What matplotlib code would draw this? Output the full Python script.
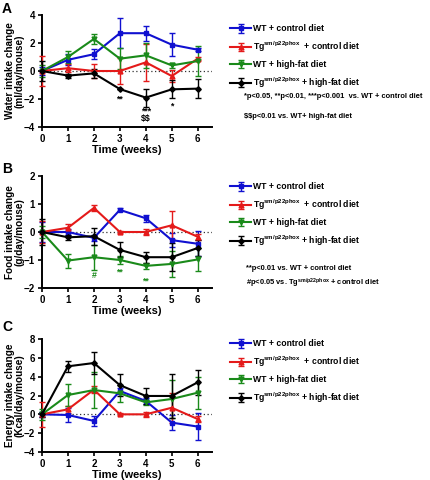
import numpy as np
import matplotlib.pyplot as plt

plt.rcParams['font.family'] = ['Liberation Sans', 'DejaVu Sans']
plt.rcParams['font.weight'] = 'bold'
plt.rcParams['mathtext.fontset'] = 'custom'
plt.rcParams['mathtext.rm'] = 'Liberation Sans'

weeks = [0, 1, 2, 3, 4, 5, 6]

# panel A - water intake change
water_wt_ctrl = [0, 0.8, 1.2, 2.7, 2.7, 1.88, 1.52]
water_wt_ctrl_err = [0.3, 0.4, 0.35, 1.07, 0.55, 0.8, 0.1]
water_tg_ctrl = [0, 0.2, 0.0, 0.0, 0.62, -0.36, 0.88]
water_tg_ctrl_err = [1.1, 0.3, 0.5, 0.9, 1.3, 0.4, 0.1]
water_wt_hfd = [0, 1.0, 2.29, 0.88, 1.12, 0.4, 0.71]
water_wt_hfd_err = [0.4, 0.4, 0.35, 0.75, 0.9, 0.2, 1.1]
water_tg_hfd = [0, -0.33, -0.17, -1.29, -1.9, -1.31, -1.26]
water_tg_hfd_err = [0.7, 0.15, 0.3, 0.0, 0.65, 0.65, 0.7]

# panel B - food intake change
food_wt_ctrl = [0, 0.0, -0.21, 0.79, 0.49, -0.29, -0.42]
food_wt_ctrl_err = [0.35, 0.1, 0.1, 0.05, 0.12, 0.25, 0.45]
food_tg_ctrl = [0, 0.15, 0.86, 0.0, 0.0, 0.24, -0.17]
food_tg_ctrl_err = [0.4, 0.15, 0.1, 0.05, 0.1, 0.5, 0.1]
food_wt_hfd = [0, -1.02, -0.9, -1.0, -1.21, -1.14, -0.98]
food_wt_hfd_err = [0.2, 0.25, 0.45, 0.15, 0.1, 0.45, 0.4]
food_tg_hfd = [0, -0.19, -0.15, -0.64, -0.9, -0.9, -0.57]
food_tg_hfd_err = [0.45, 0.1, 0.3, 0.27, 0.2, 0.5, 0.3]

# panel C - energy intake change
energy_wt_ctrl = [0, -0.07, -0.7, 2.48, 1.42, -0.88, -1.3]
energy_wt_ctrl_err = [0.3, 0.7, 0.5, 0.3, 0.3, 0.8, 1.4]
energy_tg_ctrl = [0, 0.53, 2.62, 0.0, 0.0, 0.7, -0.5]
energy_tg_ctrl_err = [1.3, 0.4, 0.4, 0.1, 0.3, 1.6, 0.3]
energy_wt_hfd = [0, 2.05, 2.58, 2.23, 1.27, 1.63, 2.3]
energy_wt_hfd_err = [0.6, 1.2, 1.9, 0.9, 0.3, 2.0, 1.7]
energy_tg_hfd = [0, 5.1, 5.45, 3.1, 1.95, 1.95, 3.4]
energy_tg_hfd_err = [0.3, 0.6, 1.2, 1.2, 0.8, 2.3, 1.3]

TG = r'Tg$^{\rm sm/p22phox}$'
labels = ['WT + control diet', TG + '  + control diet',
          'WT + high-fat diet', TG + ' + high-fat diet']
colors = ['#1010d0', '#e41a1a', '#1a8a1a', '#000000']
markers = ['s', '^', 'v', 'D']
msizes = [3.5, 3.5, 3.5, 2.8]

W, H = 431, 480
fig = plt.figure(figsize=(W / 100, H / 100), dpi=100)


def px_axes(left, top, right, bottom):
    return fig.add_axes([left / W, 1 - bottom / H, (right - left) / W, (bottom - top) / H])


def draw_panel(ax, series, ylim, yticks, ylabel):
    handles = []
    for (y, e), c, m, ms in zip(series, colors, markers, msizes):
        h = ax.errorbar(weeks, y, yerr=e, color=c, marker=m, markersize=ms,
                        linewidth=1.5, elinewidth=1.0, capsize=2.5, capthick=1.0,
                        clip_on=False, zorder=3)
        handles.append(h)
    ax.axhline(0, color='#333333', linestyle=(0, (1, 2)), linewidth=0.9, zorder=1)
    ax.set_xlim(0, 6.55)
    ax.set_ylim(*ylim)
    ax.set_yticks(yticks)
    ax.set_xticks(weeks)
    for s in ['top', 'right']:
        ax.spines[s].set_visible(False)
    for s in ['left', 'bottom']:
        ax.spines[s].set_linewidth(1.4)
    ax.tick_params(width=1.2, length=3, labelsize=7, pad=2)
    ax.set_xlabel('Time (weeks)', fontsize=8, fontweight='bold', labelpad=1)
    ax.set_ylabel(ylabel, fontsize=7.2, fontweight='bold', linespacing=1.05)
    ax.yaxis.set_label_coords(-0.1, 0.5)
    ax.patch.set_alpha(0)
    return handles


def draw_legend(ax, handles, x, y):
    ax.legend(handles, labels, loc='upper left', bbox_to_anchor=(x / W, 1 - y / H),
              bbox_transform=fig.transFigure, frameon=False, fontsize=6.2,
              handlelength=2.4, handletextpad=0.25, labelspacing=0.72, borderpad=0)


# A
axA = px_axes(42, 15, 212, 127)
hA = draw_panel(axA, [(water_wt_ctrl, water_wt_ctrl_err), (water_tg_ctrl, water_tg_ctrl_err),
                      (water_wt_hfd, water_wt_hfd_err), (water_tg_hfd, water_tg_hfd_err)],
                (-4, 4), [-4, -2, 0, 2, 4], 'Water intake change\n(ml/day/mouse)')
axA.text(3, -2.0, '**', ha='center', va='center', fontsize=6.3)
axA.text(4, -2.85, '***', ha='center', va='center', fontsize=6.3)
axA.text(4, -3.4, r'\$\$', ha='center', va='center', fontsize=6.3)
axA.text(5, -2.5, '*', ha='center', va='center', fontsize=6.3)
draw_legend(axA, hA, 226, 20)
fig.text(244 / W, 1 - 97 / H, '*p<0.05, **p<0.01, ***p<0.001  vs. WT + control diet',
         fontsize=5.4, va='center')
fig.text(244 / W, 1 - 117 / H, r'\$\$p<0.01 vs. WT+ high-fat diet', fontsize=5.4, va='center')
fig.text(2 / W, 1 - 9 / H, 'A', fontsize=10, va='center')

# B
axB = px_axes(42, 176, 212, 288)
hB = draw_panel(axB, [(food_wt_ctrl, food_wt_ctrl_err), (food_tg_ctrl, food_tg_ctrl_err),
                      (food_wt_hfd, food_wt_hfd_err), (food_tg_hfd, food_tg_hfd_err)],
                (-2, 2), [-2, -1, 0, 1, 2], 'Food intake change\n(g/day/mouse)')
axB.text(2, -1.57, '#', ha='center', va='center', fontsize=6.3, color=colors[2])
axB.text(3, -1.42, '**', ha='center', va='center', fontsize=6.3, color=colors[2])
axB.text(4, -1.74, '**', ha='center', va='center', fontsize=6.3, color=colors[2])
draw_legend(axB, hB, 226, 178)
fig.text(246 / W, 1 - 269 / H, '**p<0.01 vs. WT + control diet', fontsize=5.4, va='center')
fig.text(246 / W, 1 - 283 / H, '#p<0.05 vs. ' + TG + ' + control diet', fontsize=5.4, va='center')
fig.text(2 / W, 1 - 169 / H, 'B', fontsize=10, va='center')

# C
axC = px_axes(42, 339, 212, 452)
hC = draw_panel(axC, [(energy_wt_ctrl, energy_wt_ctrl_err), (energy_tg_ctrl, energy_tg_ctrl_err),
                      (energy_wt_hfd, energy_wt_hfd_err), (energy_tg_hfd, energy_tg_hfd_err)],
                (-4, 8), [-4, -2, 0, 2, 4, 6, 8], 'Energy intake change\n(Kcal/day/mouse)')
draw_legend(axC, hC, 226, 335)
fig.text(2 / W, 1 - 327 / H, 'C', fontsize=10, va='center')

fig.savefig('out.png', dpi=100)
